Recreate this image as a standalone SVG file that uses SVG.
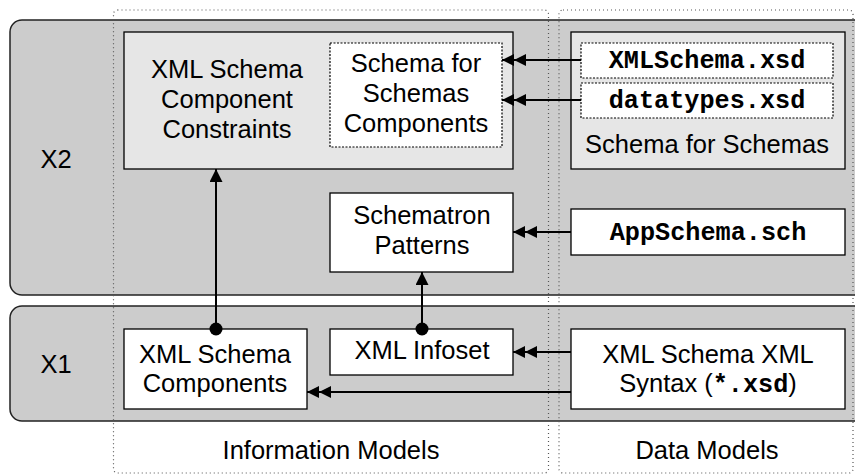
<svg xmlns="http://www.w3.org/2000/svg" width="855" height="475" viewBox="0 0 855 475">
<style>
.band{fill:#cccccc;stroke:#222;stroke-width:1.5}
.col{fill:none;stroke:#555;stroke-width:1.2;stroke-dasharray:1 3}
.box{fill:#fff;stroke:#000;stroke-width:1.3}
.gbox{fill:#e6e6e6;stroke:#000;stroke-width:1.3}
.dbox{fill:#fff;stroke:#000;stroke-width:1.2;stroke-dasharray:2 1.5}
.t{font-family:"Liberation Sans",Arial,sans-serif;font-size:25.5px;fill:#000;text-anchor:middle}
.m{font-family:"Liberation Mono","Courier New",monospace;font-weight:bold;font-size:25.2px}
.c{fill:none;stroke:#000;stroke-width:2}
</style>
<defs>
<marker id="dbl" viewBox="0 0 24 12" refX="24" refY="6" markerWidth="24" markerHeight="12" markerUnits="userSpaceOnUse" orient="auto">
<path d="M24,6 L12,0 L12,12 Z M12,6 L0,0 L0,12 Z" fill="#000"/>
</marker>
<marker id="arr" viewBox="0 0 13 13" refX="13" refY="6.5" markerWidth="13" markerHeight="13" markerUnits="userSpaceOnUse" orient="auto">
<path d="M13,6.5 L0,0 L0,13 Z" fill="#000"/>
</marker>
<marker id="dot" viewBox="0 0 14 14" refX="7" refY="7" markerWidth="14" markerHeight="14" markerUnits="userSpaceOnUse">
<circle cx="7" cy="7" r="6.5" fill="#000"/>
</marker>
</defs>

<g id="bands">
<rect class="band" x="10" y="20" width="860" height="275" rx="12"/>
<text class="t" x="56" y="168">X2</text>
<rect class="band" x="10" y="306" width="860" height="115" rx="12"/>
<text class="t" x="56" y="373">X1</text>
</g>

<g id="columns">
<rect class="col" x="113.5" y="10" width="435" height="463" rx="4"/>
<rect class="col" x="559" y="10" width="294" height="463" rx="4"/>
<text class="t" x="331" y="459">Information Models</text>
<text class="t" x="707" y="459">Data Models</text>
</g>

<g id="constraints">
<rect class="gbox" x="124" y="32" width="389" height="137"/>
<text class="t" x="227" y="78">XML Schema</text>
<text class="t" x="227" y="108">Component</text>
<text class="t" x="227" y="138">Constraints</text>
</g>

<g id="s4s-components">
<rect class="dbox" x="330" y="43" width="172" height="104"/>
<text class="t" x="416" y="72">Schema for</text>
<text class="t" x="416" y="102">Schemas</text>
<text class="t" x="416" y="132">Components</text>
</g>

<g id="s4s">
<rect class="gbox" x="571" y="32" width="274" height="137"/>
<text class="t" x="707" y="153">Schema for Schemas</text>
</g>

<g id="xmlschema-xsd">
<rect class="dbox" x="581" y="43" width="252" height="35"/>
<text class="t m" x="707" y="68">XMLSchema.xsd</text>
</g>

<g id="datatypes-xsd">
<rect class="dbox" x="581" y="83" width="252" height="35"/>
<text class="t m" x="707" y="108">datatypes.xsd</text>
</g>

<g id="schematron">
<rect class="box" x="330" y="193" width="183" height="79"/>
<text class="t" x="422" y="224">Schematron</text>
<text class="t" x="422" y="254">Patterns</text>
</g>

<g id="appschema">
<rect class="box" x="571" y="209" width="274" height="46"/>
<text class="t m" x="708" y="240">AppSchema.sch</text>
</g>

<g id="components">
<rect class="box" x="124" y="329" width="183" height="80"/>
<text class="t" x="215" y="363">XML Schema</text>
<text class="t" x="215" y="392">Components</text>
</g>

<g id="infoset">
<rect class="box" x="330" y="329" width="183" height="46"/>
<text class="t" x="422" y="359">XML Infoset</text>
</g>

<g id="syntax">
<rect class="box" x="571" y="329" width="274" height="80"/>
<text class="t" x="708" y="363">XML Schema XML</text>
<text class="t" x="708" y="392">Syntax (<tspan class="m">*.xsd</tspan>)</text>
</g>

<g id="connectors">
<line class="c" x1="581" y1="60" x2="502" y2="60" marker-end="url(#dbl)"/>
<line class="c" x1="581" y1="100" x2="502" y2="100" marker-end="url(#dbl)"/>
<line class="c" x1="571" y1="232" x2="513" y2="232" marker-end="url(#dbl)"/>
<line class="c" x1="571" y1="352" x2="513" y2="352" marker-end="url(#dbl)"/>
<line class="c" x1="571" y1="392" x2="307" y2="392" marker-end="url(#dbl)"/>
<line class="c" x1="216" y1="329" x2="216" y2="169" marker-start="url(#dot)" marker-end="url(#arr)"/>
<line class="c" x1="422" y1="329" x2="422" y2="272" marker-start="url(#dot)" marker-end="url(#arr)"/>
</g>
</svg>
